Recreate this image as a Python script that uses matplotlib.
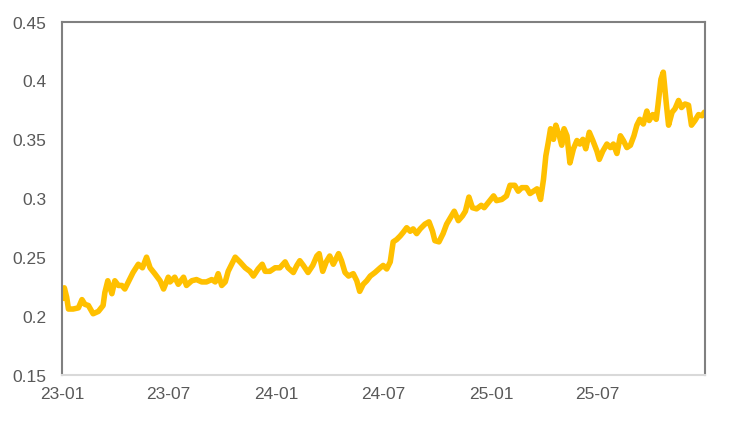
import pandas as pd
import matplotlib
matplotlib.use("Agg")
import matplotlib.pyplot as plt
import matplotlib.dates as mdates
from matplotlib.ticker import FuncFormatter

# series
dates = [
    "2023-01-03", "2023-01-05", "2023-01-09", "2023-01-12", "2023-01-20", "2023-01-29",
    "2023-02-04", "2023-02-09", "2023-02-15", "2023-02-23", "2023-03-04", "2023-03-12",
    "2023-03-15", "2023-03-20", "2023-03-27", "2023-04-01", "2023-04-07", "2023-04-13",
    "2023-04-18", "2023-04-24", "2023-05-02", "2023-05-11", "2023-05-18", "2023-05-25",
    "2023-05-31", "2023-06-08", "2023-06-17", "2023-06-23", "2023-07-01", "2023-07-04",
    "2023-07-12", "2023-07-18", "2023-07-27", "2023-08-01", "2023-08-10", "2023-08-18",
    "2023-08-27", "2023-09-04", "2023-09-13", "2023-09-19", "2023-09-24", "2023-09-30",
    "2023-10-06", "2023-10-11", "2023-10-17", "2023-10-23", "2023-10-31", "2023-11-09",
    "2023-11-17", "2023-11-23", "2023-12-01", "2023-12-08", "2023-12-13", "2023-12-21",
    "2023-12-30", "2024-01-07", "2024-01-16", "2024-01-21", "2024-01-30", "2024-02-05",
    "2024-02-10", "2024-02-16", "2024-02-24", "2024-03-03", "2024-03-10", "2024-03-14",
    "2024-03-20", "2024-03-26", "2024-04-01", "2024-04-07", "2024-04-16", "2024-04-21",
    "2024-04-27", "2024-05-03", "2024-05-11", "2024-05-17", "2024-05-22", "2024-05-28",
    "2024-06-03", "2024-06-09", "2024-06-17", "2024-06-26", "2024-07-01", "2024-07-07",
    "2024-07-13", "2024-07-18", "2024-07-24", "2024-07-30", "2024-08-04", "2024-08-10",
    "2024-08-16", "2024-08-21", "2024-08-27", "2024-09-02", "2024-09-10", "2024-09-17",
    "2024-09-23", "2024-09-27", "2024-10-04", "2024-10-11", "2024-10-17", "2024-10-24",
    "2024-10-30", "2024-11-06", "2024-11-13", "2024-11-18", "2024-11-24", "2024-11-30",
    "2024-12-07", "2024-12-15", "2024-12-20", "2024-12-28", "2025-01-05", "2025-01-10",
    "2025-01-19", "2025-01-27", "2025-02-02", "2025-02-10", "2025-02-16", "2025-02-22",
    "2025-03-02", "2025-03-08", "2025-03-14", "2025-03-20", "2025-03-26", "2025-03-31",
    "2025-04-04", "2025-04-08", "2025-04-12", "2025-04-17", "2025-04-21", "2025-04-27",
    "2025-05-01", "2025-05-05", "2025-05-10", "2025-05-15", "2025-05-21", "2025-05-27",
    "2025-06-01", "2025-06-06", "2025-06-11", "2025-06-17", "2025-06-23", "2025-06-30",
    "2025-07-04", "2025-07-10", "2025-07-17", "2025-07-23", "2025-07-28", "2025-08-03",
    "2025-08-09", "2025-08-14", "2025-08-20", "2025-08-26", "2025-09-01", "2025-09-06",
    "2025-09-11", "2025-09-17", "2025-09-23", "2025-09-27", "2025-10-03", "2025-10-09",
    "2025-10-12", "2025-10-17", "2025-10-21", "2025-10-26", "2025-10-30", "2025-11-05",
    "2025-11-10", "2025-11-16", "2025-11-21", "2025-11-27", "2025-12-03", "2025-12-08",
    "2025-12-14", "2025-12-20", "2025-12-26", "2025-12-30",
]
values = [
    0.215, 0.224, 0.216, 0.206, 0.206, 0.207,
    0.214, 0.210, 0.209, 0.202, 0.204, 0.209,
    0.220, 0.230, 0.219, 0.230, 0.226, 0.226,
    0.223, 0.229, 0.237, 0.244, 0.241, 0.250,
    0.241, 0.236, 0.230, 0.223, 0.233, 0.229,
    0.233, 0.227, 0.233, 0.226, 0.230, 0.231,
    0.229, 0.229, 0.231, 0.229, 0.236, 0.226,
    0.229, 0.238, 0.244, 0.250, 0.246, 0.241,
    0.238, 0.234, 0.240, 0.244, 0.238, 0.238,
    0.241, 0.241, 0.246, 0.241, 0.237, 0.243,
    0.247, 0.243, 0.237, 0.243, 0.251, 0.253,
    0.238, 0.246, 0.251, 0.244, 0.253, 0.247,
    0.237, 0.234, 0.236, 0.230, 0.221, 0.227,
    0.230, 0.234, 0.237, 0.241, 0.243, 0.240,
    0.246, 0.263, 0.265, 0.268, 0.271, 0.275,
    0.272, 0.274, 0.270, 0.274, 0.278, 0.280,
    0.272, 0.264, 0.263, 0.270, 0.278, 0.284,
    0.289, 0.281, 0.285, 0.289, 0.301, 0.292,
    0.291, 0.294, 0.292, 0.297, 0.302, 0.298,
    0.299, 0.302, 0.311, 0.311, 0.306, 0.309,
    0.309, 0.304, 0.306, 0.308, 0.299, 0.316,
    0.336, 0.347, 0.359, 0.350, 0.362, 0.353,
    0.345, 0.359, 0.353, 0.330, 0.342, 0.349,
    0.346, 0.350, 0.342, 0.356, 0.349, 0.340,
    0.333, 0.340, 0.346, 0.343, 0.346, 0.338,
    0.353, 0.349, 0.343, 0.345, 0.353, 0.362,
    0.367, 0.363, 0.374, 0.366, 0.371, 0.367,
    0.379, 0.401, 0.407, 0.381, 0.362, 0.373,
    0.376, 0.383, 0.377, 0.380, 0.379, 0.362,
    0.366, 0.371, 0.370, 0.373,
]
tick_dates = ["2023-01-01", "2023-07-01", "2024-01-01", "2024-07-01", "2025-01-01", "2025-07-01"]
y_ticks = [0.15, 0.2, 0.25, 0.3, 0.35, 0.4, 0.45]

plt.rcParams["font.family"] = ["Liberation Sans", "DejaVu Sans"]

fig = plt.figure(figsize=(7.31, 4.27), dpi=100)
ax = fig.add_axes([0.0848, 0.1194, 0.8796, 0.8279])

ax.plot(pd.to_datetime(dates), values, color="#FFC000", lw=4.0,
        solid_joinstyle="round", solid_capstyle="round")

ax.set_xlim(pd.Timestamp("2023-01-01"), pd.Timestamp("2025-12-31"))
ax.set_ylim(0.15, 0.45)
ax.set_yticks(y_ticks)
ax.yaxis.set_major_formatter(FuncFormatter(lambda v, p: "%g" % v))
ax.set_xticks(pd.to_datetime(tick_dates))
ax.xaxis.set_major_formatter(mdates.DateFormatter("%y-%m"))

ax.tick_params(axis="both", length=0, labelsize=12.5, labelcolor="#595959")
ax.tick_params(axis="y", pad=11)
ax.tick_params(axis="x", pad=8)

for side in ["left", "top", "right"]:
    ax.spines[side].set_color("#808080")
    ax.spines[side].set_linewidth(1.5)
ax.spines["bottom"].set_color("#D9D9D9")
ax.spines["bottom"].set_linewidth(1.5)

fig.savefig("out.png", dpi=100)
